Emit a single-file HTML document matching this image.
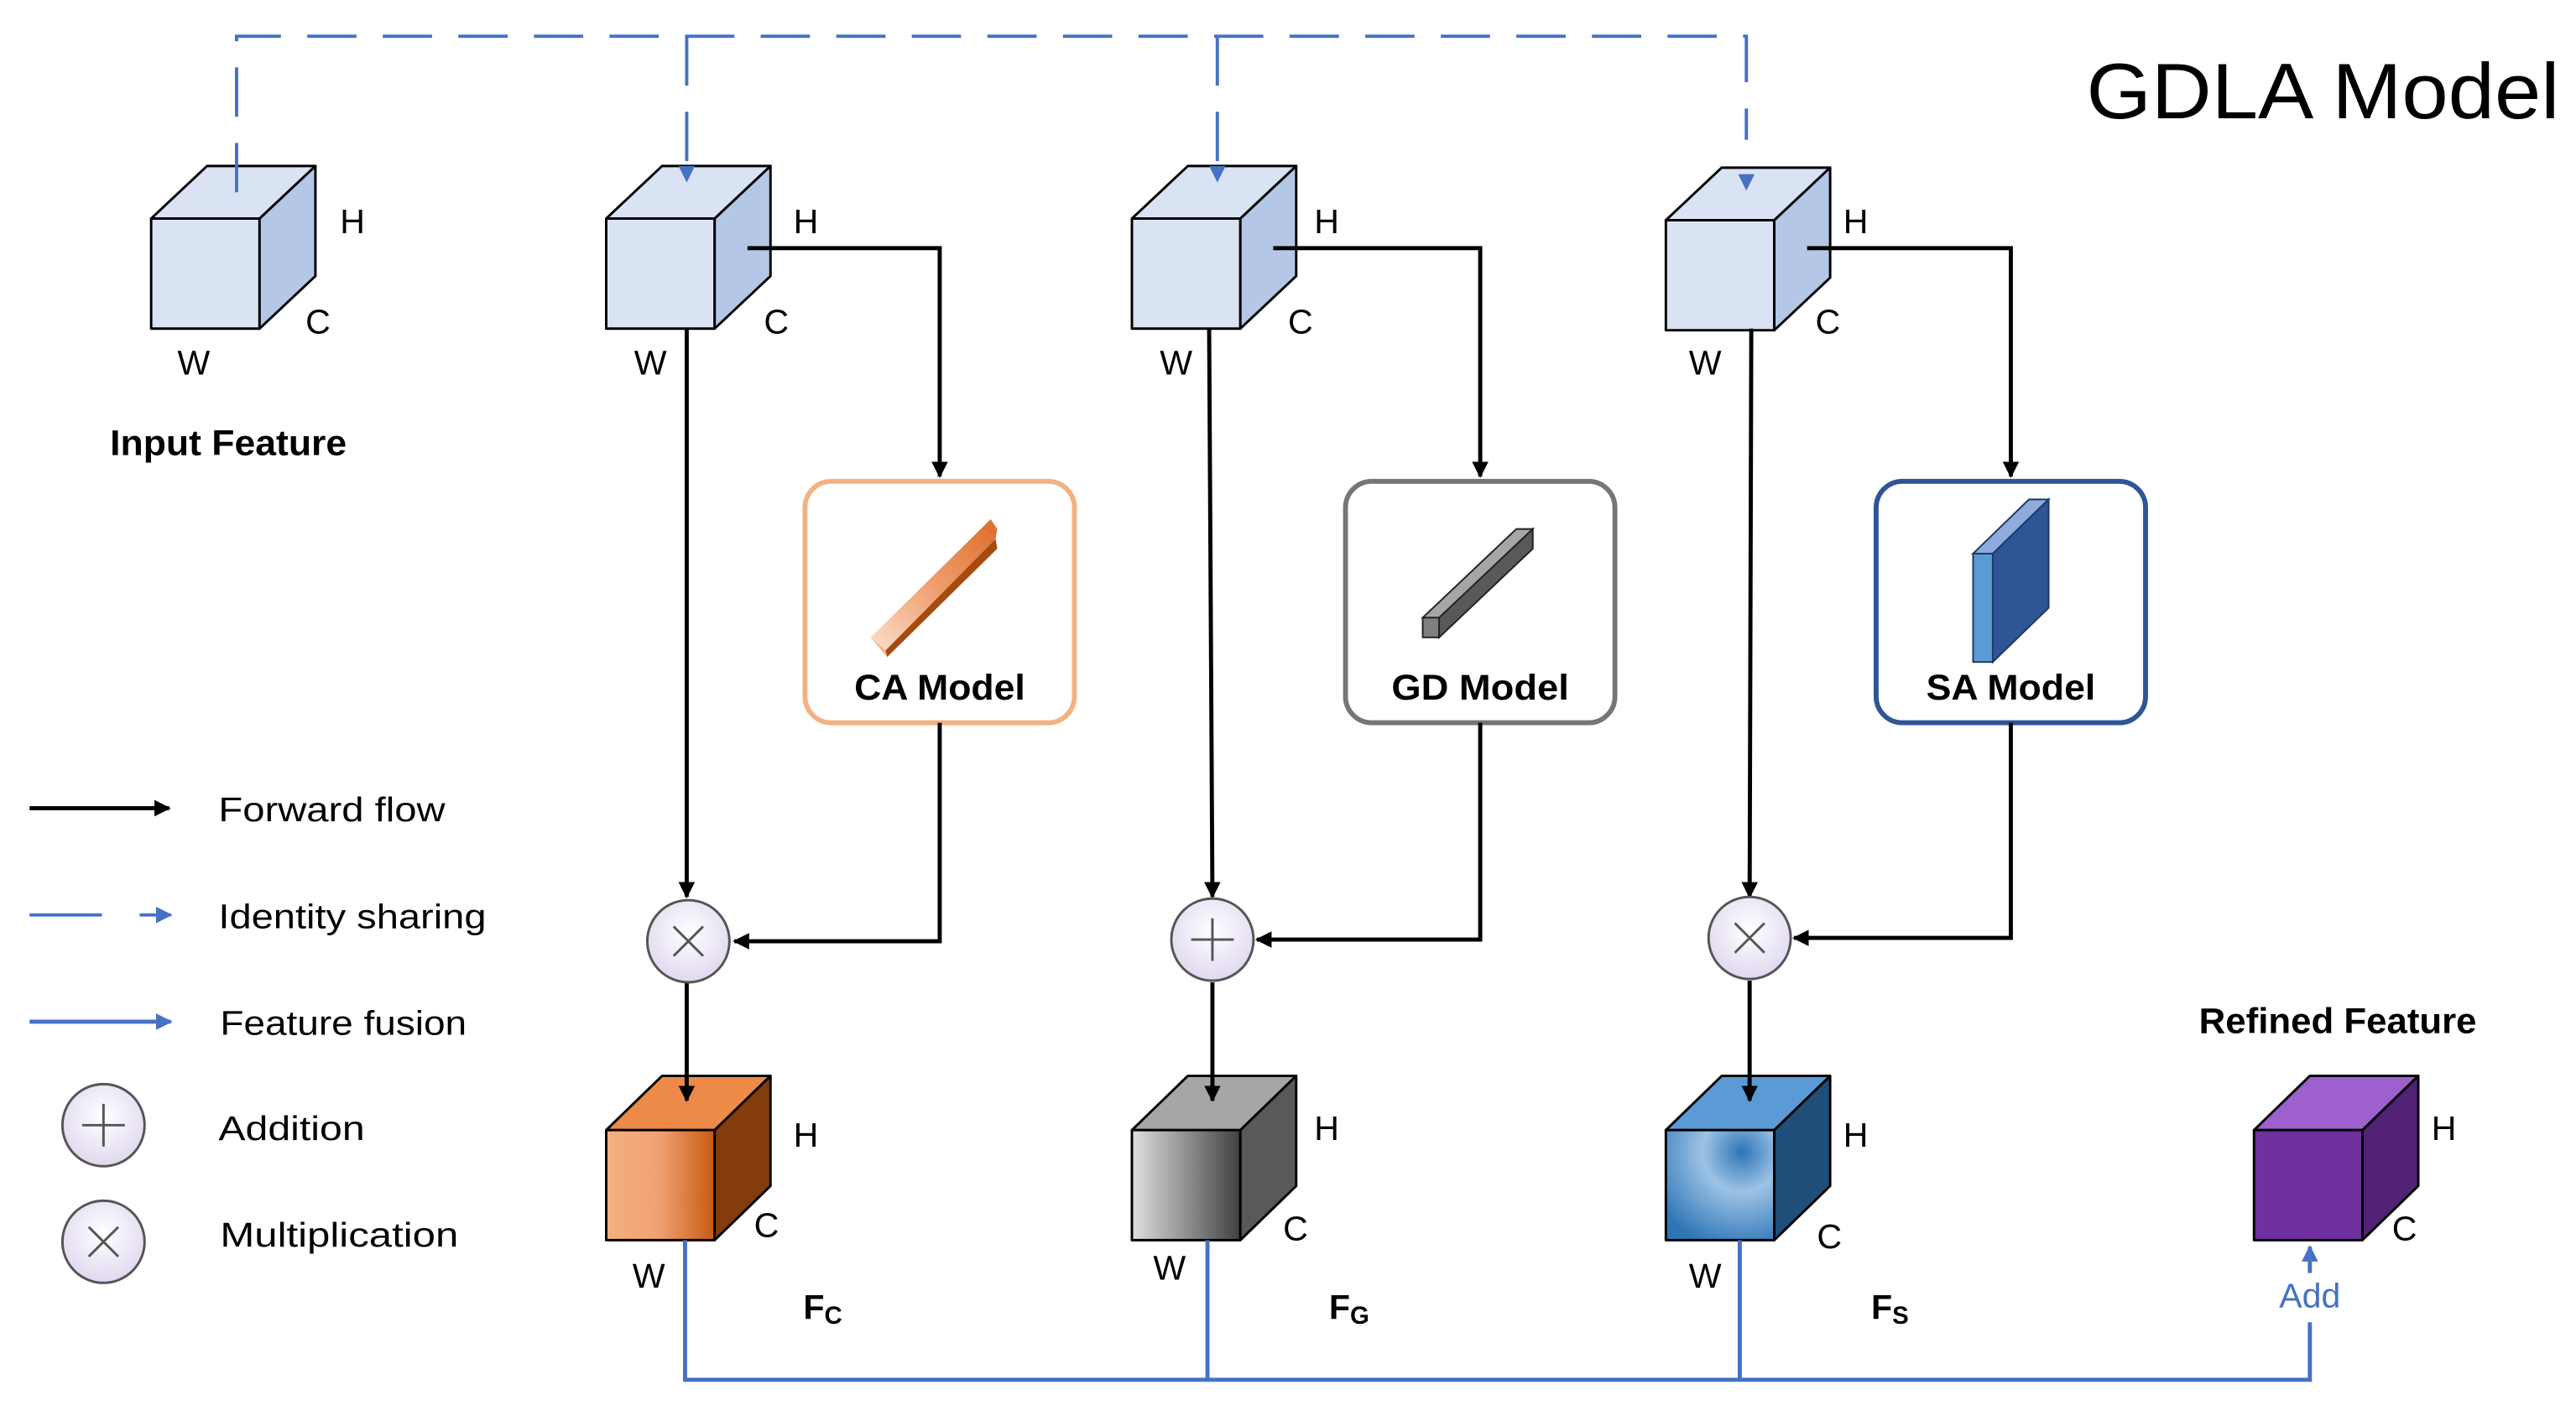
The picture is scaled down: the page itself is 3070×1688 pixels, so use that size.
<!DOCTYPE html>
<html><head><meta charset="utf-8"><style>html,body{margin:0;padding:0;background:#fff}svg{display:block}</style></head>
<body>
<svg width="3070" height="1688" viewBox="0 0 1568 862" xmlns="http://www.w3.org/2000/svg" font-family="'Liberation Sans',sans-serif">
<defs>
<marker id="ab" markerWidth="10" markerHeight="10" refX="9" refY="5" orient="auto" markerUnits="userSpaceOnUse"><path d="M0,0 L10,5 L0,10 z" fill="#000"/></marker>
<marker id="au" markerWidth="10" markerHeight="10" refX="9" refY="5" orient="auto" markerUnits="userSpaceOnUse"><path d="M0,0 L10,5 L0,10 z" fill="#4472c4"/></marker>
<linearGradient id="go" x1="0" x2="1"><stop offset="0" stop-color="#f4b183"/><stop offset="0.5" stop-color="#f0a070"/><stop offset="1" stop-color="#c55a11"/></linearGradient>
<linearGradient id="gg" x1="0" x2="1"><stop offset="0" stop-color="#e0e0e0"/><stop offset="1" stop-color="#404040"/></linearGradient>
<radialGradient id="gb" cx="0.7" cy="0.2" r="0.9"><stop offset="0" stop-color="#2e75b6"/><stop offset="0.4" stop-color="#9dc3e6"/><stop offset="1" stop-color="#2e75b6"/></radialGradient>
<radialGradient id="gc" cx="0.5" cy="0.4" r="0.6"><stop offset="0" stop-color="#fff"/><stop offset="1" stop-color="#e0d8f0"/></radialGradient>
<linearGradient id="gca" x1="0" y1="1" x2="1" y2="0"><stop offset="0" stop-color="#fbe0cc"/><stop offset="0.5" stop-color="#f0a070"/><stop offset="1" stop-color="#e07030"/></linearGradient>
</defs>
<g stroke="#000" stroke-width="1.5" stroke-linejoin="round">
<g fill="#dae3f3"><polygon points="92,133 126,101 192,101 158,133"/><rect x="92" y="133" width="66" height="67"/><polygon points="158,133 192,101 192,168 158,200" fill="#b4c7e7"/></g>
<g fill="#dae3f3"><polygon points="369,133 403,101 469,101 435,133"/><rect x="369" y="133" width="66" height="67"/><polygon points="435,133 469,101 469,168 435,200" fill="#b4c7e7"/></g>
<g fill="#dae3f3"><polygon points="689,133 723,101 789,101 755,133"/><rect x="689" y="133" width="66" height="67"/><polygon points="755,133 789,101 789,168 755,200" fill="#b4c7e7"/></g>
<g fill="#dae3f3"><polygon points="1014,134 1048,102 1114,102 1080,134"/><rect x="1014" y="134" width="66" height="67"/><polygon points="1080,134 1114,102 1114,169 1080,201" fill="#b4c7e7"/></g>
<polygon points="369,688 403,655 469,655 435,688" fill="#ed8a48"/><rect x="369" y="688" width="66" height="67" fill="url(#go)"/><polygon points="435,688 469,655 469,722 435,755" fill="#843c0c"/>
<polygon points="689,688 723,655 789,655 755,688" fill="#a6a6a6"/><rect x="689" y="688" width="66" height="67" fill="url(#gg)"/><polygon points="755,688 789,655 789,722 755,755" fill="#595959"/>
<polygon points="1014,688 1048,655 1114,655 1080,688" fill="#5b9bd5"/><rect x="1014" y="688" width="66" height="67" fill="url(#gb)"/><polygon points="1080,688 1114,655 1114,722 1080,755" fill="#1f4e79"/>
<polygon points="1372,688 1406,655 1472,655 1438,688" fill="#9e5fcf"/><rect x="1372" y="688" width="66" height="67" fill="#7030a0"/><polygon points="1438,688 1472,655 1472,722 1438,755" fill="#512275"/>
</g>
<rect x="490" y="293" width="164" height="147" rx="16" fill="#fff" stroke="#f4b183" stroke-width="3"/>
<rect x="819" y="293" width="164" height="147" rx="16" fill="#fff" stroke="#767676" stroke-width="3"/>
<rect x="1142" y="293" width="164" height="147" rx="16" fill="#fff" stroke="#2f5597" stroke-width="3"/>
<g stroke="none"><polygon points="530,388 597,322 606,328 539,396" fill="url(#gca)"/><polygon points="597,322 603,316 607,322 606,328" fill="#e07030"/><polygon points="606,328 607,334 540,400 539,396" fill="#a64a10"/><polygon points="530,388 539,396 540,400" fill="#f4b183"/></g>
<g stroke="#222" stroke-width="1"><polygon points="866,376 923,322 933,322 876,376" fill="#a6a6a6"/><rect x="866" y="376" width="10" height="12" fill="#7f7f7f"/><polygon points="876,376 933,322 933,334 876,388" fill="#595959"/></g>
<g stroke="#1f3864" stroke-width="1"><polygon points="1201,337 1235,304 1247,304 1213,337" fill="#8faadc"/><rect x="1201" y="337" width="12" height="66" fill="#5b9bd5"/><polygon points="1213,337 1247,304 1247,370 1213,403" fill="#2f5597"/></g>
<g font-weight="bold" font-size="22" text-anchor="middle" fill="#000">
<text x="572" y="426" textLength="104" lengthAdjust="spacingAndGlyphs">CA Model</text><text x="901" y="426" textLength="108" lengthAdjust="spacingAndGlyphs">GD Model</text><text x="1224" y="426" textLength="103" lengthAdjust="spacingAndGlyphs">SA Model</text>
<text x="139" y="277" textLength="144" lengthAdjust="spacingAndGlyphs">Input Feature</text><text x="1423" y="629" textLength="169" lengthAdjust="spacingAndGlyphs">Refined Feature</text>
</g>
<g stroke="#4472c4" stroke-width="2" fill="none" stroke-dasharray="30,16">
<path d="M144,117 V22 H1063 V85"/>
<path d="M418,22 V110" marker-end="url(#au)"/><path d="M741,22 V110" marker-end="url(#au)"/>
</g>
<path d="M1063,116 l-5,-10 h10z" fill="#4472c4"/>
<g stroke="#000" stroke-width="2.5" fill="none">
<path d="M455,151 H572 V290" marker-end="url(#ab)"/>
<path d="M775,151 H901 V290" marker-end="url(#ab)"/>
<path d="M1100,151 H1224 V290" marker-end="url(#ab)"/>
<path d="M418,200 V546" marker-end="url(#ab)"/>
<path d="M736,200 L738,546" marker-end="url(#ab)"/>
<path d="M1066,200 L1065,546" marker-end="url(#ab)"/>
<path d="M572,440 V573 H447" marker-end="url(#ab)"/>
<path d="M901,440 V572 H765" marker-end="url(#ab)"/>
<path d="M1224,440 V571 H1092" marker-end="url(#ab)"/>
<path d="M418,598 V670" marker-end="url(#ab)"/>
<path d="M738,598 V670" marker-end="url(#ab)"/>
<path d="M1065,597 V670" marker-end="url(#ab)"/>
</g>
<g stroke="#555" stroke-width="1.5" fill="url(#gc)">
<circle cx="419" cy="573" r="25"/><circle cx="738" cy="572" r="25"/><circle cx="1065" cy="571" r="25"/>
<circle cx="63" cy="685" r="25"/><circle cx="63" cy="756" r="25"/>
</g>
<g stroke="#555" stroke-width="1.5">
<path d="M410,564 l18,18 M428,564 l-18,18"/><path d="M738,559 v26 M725,572 h26"/><path d="M1056,562 l18,18 M1074,562 l-18,18"/>
<path d="M63,672 v26 M50,685 h26"/><path d="M54,747 l18,18 M72,747 l-18,18"/>
</g>
<g stroke="#4472c4" stroke-width="2.5" fill="none">
<path d="M417,755 V840 H1406 V805"/><path d="M735,755 V840"/><path d="M1059,755 V840"/>
<path d="M1406,775 V759" marker-end="url(#au)"/>
</g>
<text x="1406" y="796" font-size="21" fill="#4472c4" text-anchor="middle">Add</text>
<g font-size="21" fill="#000">
<text x="207" y="142">H</text><text x="186" y="203">C</text><text x="108" y="228">W</text>
<text x="483" y="142">H</text><text x="465" y="203">C</text><text x="386" y="228">W</text>
<text x="800" y="142">H</text><text x="784" y="203">C</text><text x="706" y="228">W</text>
<text x="1122" y="142">H</text><text x="1105" y="203">C</text><text x="1028" y="228">W</text>
<text x="483" y="698">H</text><text x="459" y="753">C</text><text x="385" y="784">W</text>
<text x="800" y="694">H</text><text x="781" y="755">C</text><text x="702" y="779">W</text>
<text x="1122" y="698">H</text><text x="1106" y="760">C</text><text x="1028" y="784">W</text>
<text x="1480" y="694">H</text><text x="1456" y="755">C</text>
<text x="489" y="803" font-weight="bold">F<tspan font-size="15" dy="3">C</tspan></text>
<text x="809" y="803" font-weight="bold">F<tspan font-size="15" dy="3">G</tspan></text>
<text x="1139" y="803" font-weight="bold">F<tspan font-size="15" dy="3">S</tspan></text>
<text x="133" y="500" textLength="138" lengthAdjust="spacingAndGlyphs">Forward flow</text>
<text x="133" y="565" textLength="163" lengthAdjust="spacingAndGlyphs">Identity sharing</text>
<text x="134" y="630" textLength="150" lengthAdjust="spacingAndGlyphs">Feature fusion</text>
<text x="133" y="694" textLength="89" lengthAdjust="spacingAndGlyphs">Addition</text>
<text x="134" y="759" textLength="145" lengthAdjust="spacingAndGlyphs">Multiplication</text>
<text x="1270" y="72" font-size="48" textLength="288" lengthAdjust="spacingAndGlyphs">GDLA Model</text>
</g>
<path d="M18,492 H103" stroke="#000" stroke-width="2.5" marker-end="url(#ab)"/>
<path d="M18,557 H62 M85,557 H104" stroke="#4472c4" stroke-width="2" marker-end="url(#au)"/>
<path d="M18,622 H104" stroke="#4472c4" stroke-width="2.5" marker-end="url(#au)"/>
</svg>
</body></html>
